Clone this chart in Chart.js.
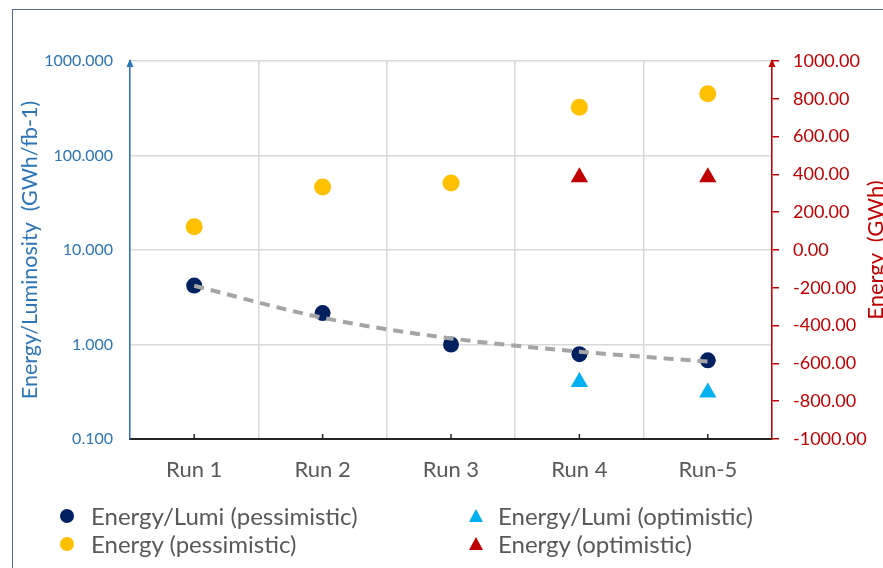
<!DOCTYPE html>
<html>
<head>
<meta charset="utf-8">
<script src="https://cdn.jsdelivr.net/npm/chart.js@4.4.0/dist/chart.umd.min.js"></script>
<style>
  html, body { margin: 0; padding: 0; background: #fff; overflow: hidden; }
  #wrap { position: relative; width: 883px; height: 568px; overflow: hidden; font-family: Lato, sans-serif; }
  #frame { position: absolute; left: 12px; top: 9px; width: 900px; height: 600px; border: 1.5px solid #56699b; box-sizing: border-box; }
  canvas { position: absolute; left: 0; top: 0; }
  .leg { position: absolute; color: #595959; font-size: 24px; line-height: 28px; white-space: nowrap; }
  .dot { position: absolute; width: 14px; height: 14px; border-radius: 50%; }
  .tri { position: absolute; width: 0; height: 0; border-left: 7px solid transparent; border-right: 7px solid transparent; }
  #ytitle2 { position: absolute; left: 775px; top: 238px; width: 200px; height: 24px; line-height: 24px; text-align: center;
             transform: rotate(-90deg); color: #C00000; font-size: 22px; white-space: pre; }
</style>
</head>
<body>
<div id="wrap">
  <div id="frame"></div>
  <canvas id="chart" width="883" height="568"></canvas>
  <div id="ytitle2">Energy  (GWh)</div>

  <div class="dot" style="left:60px;top:509px;background:#002060"></div>
  <div class="leg" style="left:91px;top:502px">Energy/Lumi (pessimistic)</div>
  <div class="tri" style="left:469px;top:509px;border-bottom:13px solid #00B0F0"></div>
  <div class="leg" style="left:498px;top:502px">Energy/Lumi (optimistic)</div>

  <div class="dot" style="left:60px;top:537px;background:#FFC000"></div>
  <div class="leg" style="left:91px;top:530px">Energy (pessimistic)</div>
  <div class="tri" style="left:469px;top:537px;border-bottom:13px solid #C00000"></div>
  <div class="leg" style="left:498px;top:530px">Energy (optimistic)</div>
</div>
<script>
// categories
const runs = ['Run 1', 'Run 2', 'Run 3', 'Run 4', 'Run-5'];
// left axis (GWh/fb-1, log)
const lumiPess = [4.2, 2.15, 1.0, 0.79, 0.68];
const lumiOpt = [null, null, null, 0.40, 0.31];
const trend = [4.18, 1.92, 1.16, 0.84, 0.66];
// right axis (GWh)
const energyPess = [123, 333, 354, 755, 827];
const energyOpt = [null, null, null, 385, 385];
// ticks
const leftTicks = [0.1, 1, 10, 100, 1000];

const BLUE = '#2E75B6';
const RED = '#C00000';
const GRID = '#D9D9D9';

function arrow(ctx, x, y, color) {
  ctx.fillStyle = color;
  ctx.beginPath();
  ctx.moveTo(x, y - 2);
  ctx.lineTo(x - 3.5, y + 6);
  ctx.lineTo(x + 3.5, y + 6);
  ctx.closePath();
  ctx.fill();
}

// x tick marks pointing up + arrow heads on the value axes
const axisDecor = {
  id: 'axisDecor',
  afterDraw(chart) {
    const { ctx, chartArea: a, scales } = chart;
    ctx.save();
    ctx.strokeStyle = '#262626';
    ctx.lineWidth = 1.5;
    runs.forEach((r, i) => {
      const x = scales.x.getPixelForValue(i);
      ctx.beginPath();
      ctx.moveTo(x, a.bottom);
      ctx.lineTo(x, a.bottom - 5);
      ctx.stroke();
    });
    arrow(ctx, a.left, a.top, BLUE);
    arrow(ctx, a.right, a.top, RED);
    ctx.restore();
  }
};

const ctx = document.getElementById('chart').getContext('2d');
new Chart(ctx, {
  type: 'line',
  data: {
    labels: runs,
    datasets: [
      {
        label: 'trend', data: trend, yAxisID: 'y',
        borderColor: '#A5A5A5', borderWidth: 4, borderDash: [10, 7],
        pointRadius: 0, cubicInterpolationMode: 'monotone', fill: false
      },
      {
        label: 'Energy/Lumi (pessimistic)', data: lumiPess, yAxisID: 'y', showLine: false,
        pointStyle: 'circle', pointRadius: 8, backgroundColor: '#002060', borderColor: '#002060', borderWidth: 0
      },
      {
        label: 'Energy/Lumi (optimistic)', data: lumiOpt, yAxisID: 'y', showLine: false,
        pointStyle: 'triangle', pointRadius: 10, backgroundColor: '#00B0F0', borderColor: '#00B0F0', borderWidth: 0
      },
      {
        label: 'Energy (pessimistic)', data: energyPess, yAxisID: 'y2', showLine: false,
        pointStyle: 'circle', pointRadius: 8.5, backgroundColor: '#FFC000', borderColor: '#FFC000', borderWidth: 0
      },
      {
        label: 'Energy (optimistic)', data: energyOpt, yAxisID: 'y2', showLine: false,
        pointStyle: 'triangle', pointRadius: 10, backgroundColor: RED, borderColor: RED, borderWidth: 0
      }
    ]
  },
  options: {
    responsive: false,
    animation: false,
    layout: { padding: { top: 61, left: 0, right: 0, bottom: 0 } },
    plugins: { legend: { display: false }, tooltip: { enabled: false } },
    scales: {
      x: {
        offset: true,
        grid: { offset: true, color: GRID, lineWidth: 1.5, drawTicks: false },
        border: { color: '#262626', width: 2 },
        ticks: { color: '#595959', font: { family: 'Lato', size: 22 }, padding: 18 },
        afterFit(s) { s.height = 129; }
      },
      y: {
        type: 'logarithmic', position: 'left', min: 0.1, max: 1000,
        grid: { color: GRID, lineWidth: 1.5, drawTicks: false },
        border: { color: BLUE, width: 1.5 },
        afterBuildTicks(s) { s.ticks = leftTicks.map(v => ({ value: v })); },
        ticks: {
          color: BLUE, font: { family: 'Lato', size: 16 }, padding: 17,
          callback: v => Number(v).toFixed(3)
        },
        title: {
          display: true, text: 'Energy/Luminosity  (GWh/fb-1)', color: BLUE,
          font: { family: 'Lato', size: 21.5 }, padding: { top: 17, bottom: 0 }
        },
        afterFit(s) { s.width = 130; }
      },
      y2: {
        type: 'linear', position: 'right', min: -1000, max: 1000,
        grid: { drawOnChartArea: false, drawTicks: true, tickLength: 7, color: RED, lineWidth: 1.5 },
        border: { color: RED, width: 1.5 },
        ticks: {
          stepSize: 200, color: RED, font: { family: 'Lato', size: 18 }, padding: 14,
          callback: v => Number(v).toFixed(2)
        },
        afterFit(s) { s.width = 111; }
      }
    }
  },
  plugins: [axisDecor]
});
</script>
</body>
</html>
